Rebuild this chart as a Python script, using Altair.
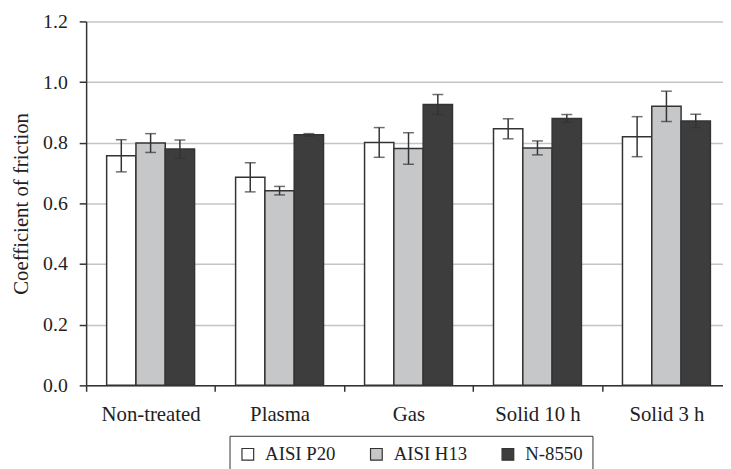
import altair as alt
import pandas as pd

categories = ["Non-treated", "Plasma", "Gas", "Solid 10 h", "Solid 3 h"]
series = ["AISI P20", "AISI H13", "N-8550"]
p20 = [0.757, 0.686, 0.801, 0.846, 0.82]
h13 = [0.799, 0.642, 0.781, 0.783, 0.92]
n8550 = [0.779, 0.826, 0.926, 0.88, 0.872]
p20_err = [0.053, 0.048, 0.049, 0.033, 0.066]
h13_err = [0.031, 0.014, 0.052, 0.023, 0.05]
n8550_err = [0.03, 0.004, 0.033, 0.013, 0.022]
colors = ["#ffffff", "#c6c7c9", "#3d3d3d"]

rows = []
for vals, errs, s in [(p20, p20_err, series[0]), (h13, h13_err, series[1]), (n8550, n8550_err, series[2])]:
    for c, v, e in zip(categories, vals, errs):
        rows.append({"cat": c, "series": s, "value": v, "lo": v - e, "hi": v + e})
df = pd.DataFrame(rows)

FONT = "Liberation Serif"
xenc = alt.X("cat:N", sort=categories, title=None,
             scale=alt.Scale(range=[0, 652], paddingInner=0, paddingOuter=0),
             axis=alt.Axis(labelAngle=0, tickBand="extent", tickSize=6, labelPadding=13,
                           labelFontSize=21, labelFont=FONT, labelColor="#222",
                           domainColor="#333", tickColor="#333", domainWidth=1.5, tickWidth=1.5))
xoff = alt.XOffset("series:N", sort=series, scale=alt.Scale(paddingOuter=0.7, paddingInner=0))

base = alt.Chart(df)
bars = base.mark_bar(stroke="#333", strokeWidth=1.5).encode(
    x=xenc,
    xOffset=xoff,
    y=alt.Y("value:Q", title="Coefficient of friction",
            scale=alt.Scale(domain=[0, 1.2], nice=False),
            axis=alt.Axis(values=[0, 0.2, 0.4, 0.6, 0.8, 1.0, 1.2], format=".1f",
                          grid=True, gridColor="#c4c4c4", gridWidth=1.5,
                          tickSize=7, labelPadding=12, labelFontSize=20, labelFont=FONT,
                          labelColor="#222", domainColor="#333", tickColor="#333",
                          domainWidth=1.5, tickWidth=1.5,
                          titleFont=FONT, titleFontSize=21, titleFontWeight="normal",
                          titleColor="#222", titlePadding=11)),
    color=alt.Color("series:N", sort=series,
                    scale=alt.Scale(domain=series, range=colors),
                    legend=alt.Legend(title=None, orient="none", legendX=145, legendY=419,
                                      direction="horizontal", strokeColor="#333",
                                      padding=9, symbolType="square", symbolSize=140,
                                      symbolStrokeColor="#333", symbolStrokeWidth=1.2,
                                      labelFont=FONT, labelFontSize=19, labelColor="#222",
                                      columnPadding=31, labelOffset=8)),
)
rules = base.mark_rule(color="#333", strokeWidth=1.5).encode(
    x=alt.X("cat:N", sort=categories), xOffset=xoff,
    y="lo:Q", y2="hi:Q")
caps_lo = base.mark_tick(color="#333", thickness=1.5, size=11).encode(
    x=alt.X("cat:N", sort=categories), xOffset=xoff, y="lo:Q")
caps_hi = base.mark_tick(color="#333", thickness=1.5, size=11).encode(
    x=alt.X("cat:N", sort=categories), xOffset=xoff, y="hi:Q")

chart = alt.layer(bars, rules, caps_lo, caps_hi).properties(
    width=644, height=368,
    autosize=alt.AutoSizeParams(type="none"),
    padding={"left": 79, "top": 11, "right": 0, "bottom": 82},
    background="white",
).configure_view(stroke=None)

chart.save("out.html", embed_options={"renderer": "svg", "actions": False})
